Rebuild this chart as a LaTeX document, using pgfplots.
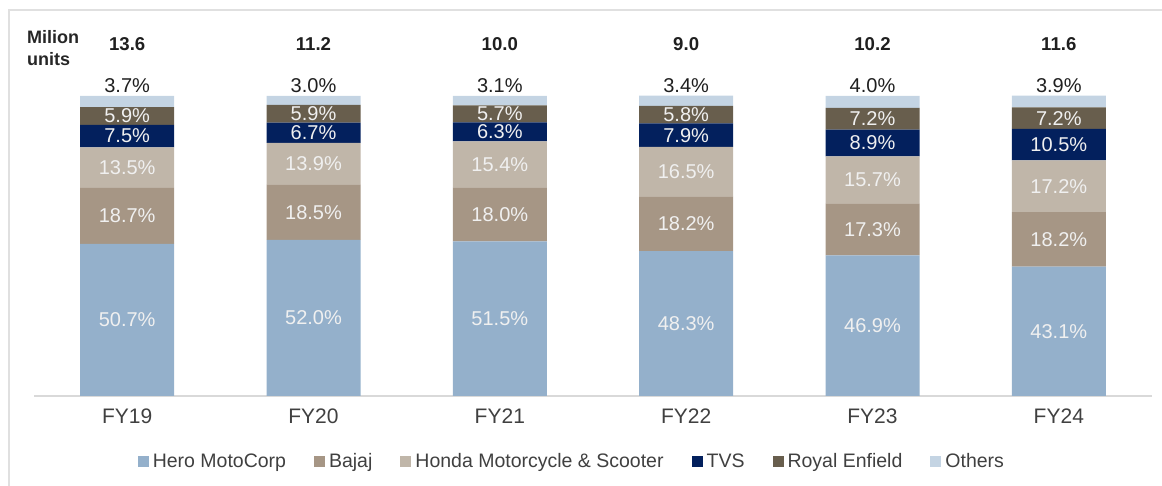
\documentclass[border=0pt]{standalone}
\usepackage{pgfplots}
\pgfplotsset{compat=1.18}
\usepackage{pgfplotstable}
\usepackage{fontspec}
\setmainfont{Liberation Sans}

\definecolor{hero}{HTML}{94B0CB}
\definecolor{bajaj}{HTML}{A69685}
\definecolor{honda}{HTML}{C0B6A9}
\definecolor{tvs}{HTML}{03205D}
\definecolor{royal}{HTML}{685E4D}
\definecolor{others}{HTML}{C4D4E3}
\definecolor{txt}{HTML}{404040}

% market share (%) and total volume (million units)
\pgfplotstableread{
x hero bajaj honda tvs re oth total
0 50.7 18.7 13.5 7.5 5.9 3.7 13.6
1 52.0 18.5 13.9 6.7 5.9 3.0 11.2
2 51.5 18.0 15.4 6.3 5.7 3.1 10.0
3 48.3 18.2 16.5 7.9 5.8 3.4 9.0
4 46.9 17.3 15.7 8.9 7.2 4.0 10.2
5 43.1 18.2 17.2 10.5 7.2 3.9 11.6
}\share

\pgfplotsset{
  frame/.style={at={(17pt,45pt)}, anchor=south west,
    scale only axis, width=559pt, height=150pt,
    xmin=-0.5, xmax=5.5, ymin=0, ymax=100, clip=false},
  lbl/.style={only marks, mark=none, point meta=explicit,
    nodes near coords={\pgfmathprintnumber[fixed,fixed zerofill,precision=1,assume math mode=true]{\pgfplotspointmeta}\%},
    every node near coord/.style={font=\fontsize{10}{12}\selectfont, text=#1, anchor=center}},
  lbl/.default={white!94!black},
}

\begin{document}
\begin{tikzpicture}[x=1pt,y=1pt]
\path[use as bounding box] (0,0) rectangle (581,243);
\draw[black!12, line width=1pt] (4.5,0) -- (4.5,238) -- (581,238);
\node[anchor=west, align=left, font=\bfseries\fontsize{9}{11}\selectfont, text=black!85] at (10,219) {Milion\\units};
\begin{axis}[
  frame,
  ybar stacked, bar width=47pt,
  axis y line=none,
  axis x line*=bottom,
  x axis line style={draw=black!15, line width=1pt, -},
  xtick={0,...,5},
  xticklabels={FY19,FY20,FY21,FY22,FY23,FY24},
  major tick length=0pt,
  xticklabel style={font=\fontsize{10.5}{12}\selectfont, text=txt, yshift=-3pt},
  legend columns=-1,
  legend style={at={(0.482,-0.22)}, anchor=center, draw=none,
    font=\fontsize{9.75}{11}\selectfont, text=txt,
    /tikz/every even column/.append style={column sep=12pt}},
  legend image code/.code={\fill[#1] (0pt,-2.75pt) rectangle (5.5pt,2.75pt);},
]
\addplot[fill=hero, draw=none] table[x=x, y=hero] {\share};
\addplot[fill=bajaj, draw=none] table[x=x, y=bajaj] {\share};
\addplot[fill=honda, draw=none] table[x=x, y=honda] {\share};
\addplot[fill=tvs, draw=none] table[x=x, y=tvs] {\share};
\addplot[fill=royal, draw=none] table[x=x, y=re] {\share};
\addplot[fill=others, draw=none] table[x=x, y=oth] {\share};
\legend{Hero MotoCorp, Bajaj, Honda Motorcycle \& Scooter, TVS, Royal Enfield, Others}
\foreach \i/\t in {0/13.6,1/11.2,2/10.0,3/9.0,4/10.2,5/11.6}{
  \edef\tmp{\noexpand\node[font=\noexpand\bfseries\noexpand\fontsize{9.3}{11}\noexpand\selectfont, text=black!88] at ([yshift=26pt]axis cs:\i,100) {\t};}\tmp
}
\end{axis}
% segment labels, centred in each segment
\begin{axis}[frame, hide axis]
\addplot[lbl] table[x=x, y expr=\thisrow{hero}/2, meta=hero] {\share};
\addplot[lbl] table[x=x, y expr=\thisrow{hero}+\thisrow{bajaj}/2, meta=bajaj] {\share};
\addplot[lbl] table[x=x, y expr=\thisrow{hero}+\thisrow{bajaj}+\thisrow{honda}/2, meta=honda] {\share};
\addplot[lbl] table[x=x, y expr=\thisrow{hero}+\thisrow{bajaj}+\thisrow{honda}+\thisrow{tvs}/2, meta=tvs] {\share};
\addplot[lbl] table[x=x, y expr=\thisrow{hero}+\thisrow{bajaj}+\thisrow{honda}+\thisrow{tvs}+\thisrow{re}/2, meta=re] {\share};
\addplot[lbl=black!88, every node near coord/.append style={yshift=5pt}]
  table[x=x, y expr=\thisrow{hero}+\thisrow{bajaj}+\thisrow{honda}+\thisrow{tvs}+\thisrow{re}+\thisrow{oth}, meta=oth] {\share};
\end{axis}
\end{tikzpicture}
\end{document}
